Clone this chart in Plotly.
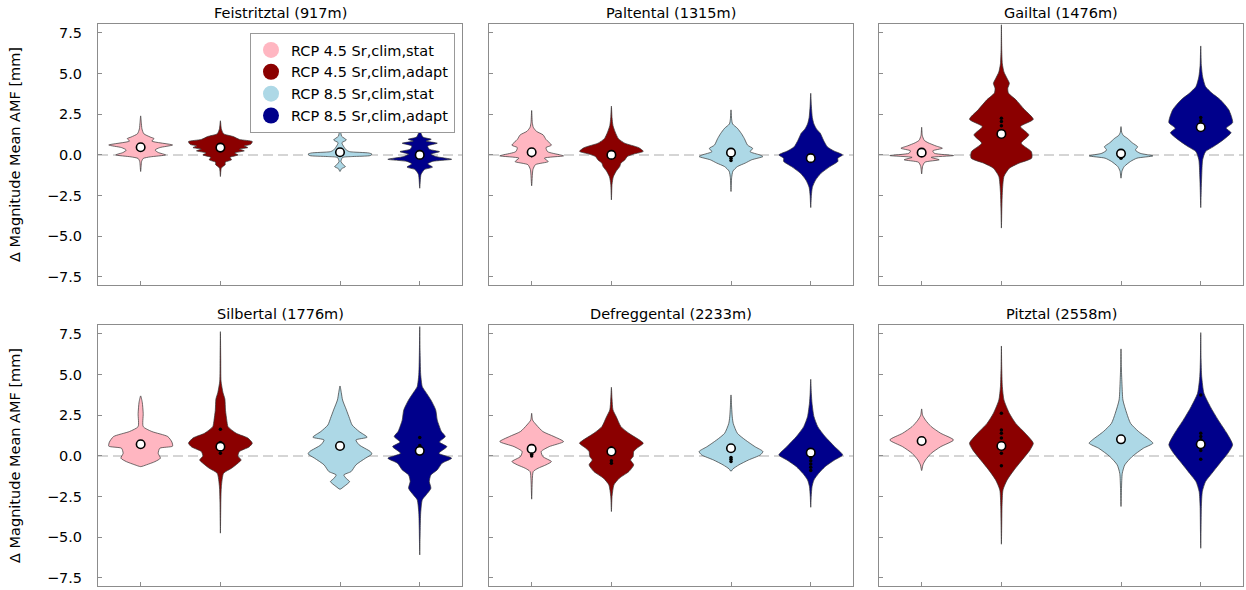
import plotly.graph_objects as go

# ---------------------------------------------------------------------------
# Data
# ---------------------------------------------------------------------------
panel_titles = [
    "Feistritztal (917m)", "Paltental (1315m)", "Gailtal (1476m)",
    "Silbertal (1776m)", "Defreggental (2233m)", "Pitztal (2558m)",
]
series_names = [
    "RCP 4.5 Sr,clim,stat", "RCP 4.5 Sr,clim,adapt",
    "RCP 8.5 Sr,clim,stat", "RCP 8.5 Sr,clim,adapt",
]
series_positions = [1.0, 2.0, 3.5, 4.5]
y_ticks = [-7.5, -5.0, -2.5, 0.0, 2.5, 5.0, 7.5]

# Density profiles: value levels (mm) and relative density (1 = widest part),
# one profile per scenario in the order of series_names.
feistritztal_y = [
    [2.4, 2.0, 1.6, 1.3, 1.1, 1.0, 0.85, 0.61, 0.45, 0.3, 0.15, 0.0, -0.12, -0.22, -0.4, -0.7, -1.02],
    [2.1, 1.6, 1.3, 1.13, 0.95, 0.82, 0.65, 0.55, 0.45, 0.35, 0.25, 0.12, 0.0, -0.15, -0.3, -0.45, -0.6, -0.8, -1.33],
    [2.2, 1.5, 1.15, 0.92, 0.75, 0.5, 0.3, 0.2, 0.12, 0.05, -0.04, -0.1, -0.16, -0.4, -0.6, -0.72, -0.85, -1.02],
    [2.0, 1.4, 1.1, 0.96, 0.85, 0.72, 0.55, 0.35, 0.2, 0.05, -0.1, -0.27, -0.4, -0.55, -0.75, -0.9, -1.2, -2.05],
]
feistritztal_d = [
    [0, 0.02, 0.04, 0.1, 0.3, 0.42, 0.35, 1.0, 0.6, 0.45, 0.55, 0.78, 0.3, 0.08, 0.03, 0.015, 0],
    [0, 0.03, 0.1, 0.4, 0.6, 1.0, 0.95, 0.75, 0.86, 0.6, 0.75, 0.45, 0.55, 0.3, 0.35, 0.15, 0.15, 0.03, 0],
    [0, 0.02, 0.05, 0.2, 0.06, 0.12, 0.2, 0.3, 0.9, 1.0, 0.95, 0.4, 0.08, 0.03, 0.1, 0.17, 0.05, 0],
    [0, 0.03, 0.1, 0.36, 0.2, 0.55, 0.25, 0.3, 0.62, 0.35, 0.5, 1.0, 0.4, 0.25, 0.4, 0.15, 0.04, 0],
]
feistritztal_mean = [0.47, 0.45, 0.16, 0.0]
feistritztal_members = [[0.35], [0.38], [0.1], [-0.05]]

paltental_y = [
    [2.73, 2.0, 1.7, 1.45, 1.23, 0.95, 0.6, 0.45, 0.2, 0.0, -0.06, -0.2, -0.41, -0.6, -0.9, -1.9],
    [3.0, 2.3, 1.8, 1.4, 1.0, 0.72, 0.45, 0.22, 0.05, -0.1, -0.31, -0.5, -0.72, -1.0, -1.35, -1.8, -2.77],
    [2.77, 2.2, 1.9, 1.64, 1.3, 1.0, 0.6, 0.4, 0.2, 0.0, -0.1, -0.3, -0.5, -0.72, -1.0, -1.4, -2.25],
    [3.79, 3.0, 2.3, 1.9, 1.6, 1.33, 0.9, 0.5, 0.25, 0.0, -0.2, -0.4, -0.72, -1.13, -1.55, -2.0, -2.5, -3.24],
]
paltental_d = [
    [0, 0.02, 0.05, 0.15, 0.36, 0.45, 0.62, 0.45, 0.5, 0.9, 1.0, 0.4, 0.52, 0.12, 0.04, 0],
    [0, 0.02, 0.05, 0.12, 0.22, 0.42, 0.85, 1.0, 0.7, 0.5, 0.42, 0.3, 0.26, 0.15, 0.06, 0.02, 0],
    [0, 0.02, 0.05, 0.2, 0.33, 0.42, 0.52, 0.68, 0.6, 0.9, 1.0, 0.65, 0.45, 0.2, 0.06, 0.02, 0],
    [0, 0.02, 0.05, 0.1, 0.18, 0.3, 0.4, 0.52, 0.72, 1.0, 0.85, 0.85, 0.6, 0.32, 0.15, 0.05, 0.02, 0],
]
paltental_mean = [0.16, 0.0, 0.14, -0.2]
paltental_members = [[0.02, -0.05], [-0.1], [-0.2, -0.35], [-0.3, -0.38]]

gailtal_y = [
    [1.7, 1.2, 0.9, 0.75, 0.55, 0.41, 0.25, 0.1, -0.04, -0.15, -0.3, -0.45, -0.7, -1.17],
    [8.0, 6.5, 5.6, 5.1, 4.7, 4.4, 4.1, 3.8, 3.4, 2.77, 2.19, 1.74, 1.23, 0.72, 0.2, -0.2, -0.51, -0.82, -1.33, -2.3, -3.2, -4.5],
    [1.74, 1.4, 1.2, 1.02, 0.75, 0.5, 0.3, 0.1, -0.06, -0.2, -0.4, -0.72, -1.0, -1.43],
    [6.7, 5.5, 4.8, 4.2, 3.8, 3.38, 2.77, 1.99, 1.64, 1.37, 0.92, 0.51, 0.2, -0.3, -1.3, -2.2, -3.24],
]
gailtal_d = [
    [0, 0.02, 0.08, 0.2, 0.45, 0.65, 0.35, 0.4, 1.0, 0.3, 0.55, 0.1, 0.03, 0],
    [0, 0.01, 0.03, 0.08, 0.18, 0.25, 0.2, 0.22, 0.45, 0.73, 1.0, 0.6, 0.86, 0.62, 0.94, 0.95, 0.55, 0.25, 0.08, 0.03, 0.015, 0],
    [0, 0.02, 0.07, 0.2, 0.35, 0.52, 0.45, 0.6, 1.0, 0.5, 0.3, 0.1, 0.03, 0],
    [0, 0.02, 0.06, 0.15, 0.35, 0.62, 0.88, 1.0, 0.8, 0.95, 0.7, 0.4, 0.15, 0.06, 0.03, 0.015, 0],
]
gailtal_mean = [0.14, 1.29, 0.08, 1.7]
gailtal_members = [[0.0], [2.25, 2.05, 1.8], [-0.2], [1.9, 2.1, 2.3]]

silbertal_y = [
    [3.69, 3.3, 2.6, 1.8, 1.5, 1.19, 0.85, 0.6, 0.47, 0.16, -0.14, -0.35, -0.55, -0.66],
    [7.64, 6.0, 4.6, 3.9, 3.5, 2.8, 2.2, 1.8, 1.39, 1.1, 0.78, 0.55, 0.27, 0.0, -0.25, -0.45, -0.76, -1.07, -1.9, -2.7, -4.75],
    [4.3, 3.9, 3.44, 2.83, 2.3, 1.9, 1.5, 1.15, 0.98, 0.68, 0.27, 0.12, -0.14, -0.55, -0.96, -1.17, -1.4, -1.58, -1.89, -2.05],
    [7.95, 6.5, 5.0, 4.26, 3.95, 3.44, 2.83, 2.2, 1.5, 1.19, 0.85, 0.57, 0.16, -0.14, -0.45, -0.86, -1.17, -1.58, -1.99, -2.4, -2.7, -3.5, -4.5, -6.09],
]
silbertal_d = [
    [0, 0.05, 0.08, 0.08, 0.35, 0.85, 0.98, 1.0, 0.6, 0.55, 0.62, 0.45, 0.18, 0],
    [0, 0.01, 0.02, 0.08, 0.14, 0.16, 0.2, 0.24, 0.5, 0.86, 1.0, 0.9, 0.6, 0.55, 0.65, 0.55, 0.35, 0.1, 0.03, 0.015, 0],
    [0, 0.04, 0.08, 0.2, 0.3, 0.38, 0.6, 0.85, 0.5, 0.6, 0.95, 1.0, 0.8, 0.5, 0.35, 0.12, 0.2, 0.3, 0.12, 0],
    [0, 0.01, 0.03, 0.08, 0.18, 0.35, 0.5, 0.55, 0.68, 0.8, 0.62, 0.85, 0.6, 1.0, 0.7, 0.55, 0.35, 0.3, 0.35, 0.2, 0.08, 0.03, 0.015, 0],
]
silbertal_mean = [0.72, 0.57, 0.61, 0.31]
silbertal_members = [[], [1.64, 0.82, 0.16], [0.45], [1.13, 0.64]]

defreggental_y = [
    [2.62, 2.2, 1.9, 1.5, 1.19, 0.88, 0.57, 0.27, -0.04, -0.35, -0.55, -0.76, -0.96, -1.5, -2.66],
    [4.22, 3.5, 2.83, 2.42, 1.8, 1.39, 1.02, 0.78, 0.47, 0.27, -0.04, -0.25, -0.55, -0.96, -1.37, -1.78, -2.5, -3.42],
    [3.75, 3.0, 2.4, 2.0, 1.39, 0.98, 0.57, 0.27, 0.06, -0.25, -0.55, -0.8, -0.95],
    [4.71, 3.8, 3.24, 2.42, 1.8, 1.19, 0.57, 0.06, -0.25, -0.66, -1.07, -1.48, -1.89, -2.5, -3.16],
]
defreggental_d = [
    [0, 0.03, 0.15, 0.35, 0.7, 1.0, 0.55, 0.3, 0.35, 0.62, 0.45, 0.2, 0.05, 0.02, 0],
    [0, 0.02, 0.05, 0.15, 0.3, 0.55, 0.85, 1.0, 0.8, 0.7, 0.68, 0.6, 0.7, 0.55, 0.25, 0.08, 0.02, 0],
    [0, 0.02, 0.04, 0.07, 0.2, 0.45, 0.75, 1.0, 0.92, 0.55, 0.25, 0.06, 0],
    [0, 0.02, 0.04, 0.1, 0.22, 0.45, 0.75, 1.0, 0.75, 0.45, 0.25, 0.1, 0.04, 0.015, 0],
]
defreggental_mean = [0.43, 0.27, 0.47, 0.2]
defreggental_members = [[0.1, 0.0], [0.5, -0.3, -0.45], [-0.1, -0.2, -0.35], [-0.1, -0.3, -0.5, -0.7, -0.9]]

pitztal_y = [
    [2.89, 2.5, 2.2, 1.8, 1.39, 0.98, 0.57, 0.16, -0.25, -0.55, -0.9],
    [6.76, 5.5, 4.26, 3.44, 2.62, 2.0, 1.39, 0.78, 0.37, -0.25, -0.86, -1.48, -2.09, -3.1, -4.3, -5.43],
    [6.58, 5.5, 4.47, 3.44, 2.62, 2.0, 1.5, 0.98, 0.78, 0.47, -0.04, -0.55, -1.07, -2.0, -3.11],
    [7.58, 6.0, 4.88, 3.85, 3.03, 2.2, 1.39, 0.68, 0.16, -0.45, -1.07, -1.58, -2.19, -3.11, -4.5, -5.68],
]
pitztal_d = [
    [0, 0.03, 0.12, 0.3, 0.6, 1.0, 0.6, 0.3, 0.12, 0.04, 0],
    [0, 0.01, 0.03, 0.08, 0.25, 0.45, 0.75, 1.0, 0.9, 0.65, 0.4, 0.18, 0.05, 0.02, 0.01, 0],
    [0, 0.01, 0.03, 0.06, 0.18, 0.3, 0.55, 0.9, 1.0, 0.7, 0.35, 0.12, 0.04, 0.015, 0],
    [0, 0.01, 0.03, 0.1, 0.3, 0.55, 0.82, 1.0, 0.85, 0.6, 0.35, 0.15, 0.05, 0.02, 0.01, 0],
]
pitztal_mean = [0.92, 0.61, 1.02, 0.72]
pitztal_members = [[1.05], [2.62, 1.6, 1.4, 1.1, 0.16, -0.6], [1.15], [3.75, 1.4, 1.2, 1.0, 0.33, -0.2]]

panel_levels = [feistritztal_y, paltental_y, gailtal_y, silbertal_y, defreggental_y, pitztal_y]
panel_density = [feistritztal_d, paltental_d, gailtal_d, silbertal_d, defreggental_d, pitztal_d]
panel_means = [feistritztal_mean, paltental_mean, gailtal_mean, silbertal_mean, defreggental_mean, pitztal_mean]
panel_members = [feistritztal_members, paltental_members, gailtal_members,
                 silbertal_members, defreggental_members, pitztal_members]

# ---------------------------------------------------------------------------
# Styling
# ---------------------------------------------------------------------------
FONT = "DejaVu Sans"
FS = 14.5
colors = ["#FFB6C1", "#8B0000", "#ADD8E6", "#00008B"]
half_width = 0.4          # widest part of each violin, in x units
frame_color = "#8c8c8c"
W, H = 1246, 590

col_px = [(98, 462), (489, 853), (879, 1243)]
row_px = [(24, 285), (325, 586)]

fig = go.Figure()
layout = dict(
    width=W, height=H, margin=dict(l=0, r=0, t=0, b=0),
    paper_bgcolor="white", plot_bgcolor="white",
    font=dict(family=FONT, size=FS, color="black"),
    showlegend=True, annotations=[], shapes=[],
)

tick_text = [f"{v:.1f}".replace("-", "\u2212") for v in y_ticks]

for i, title in enumerate(panel_titles):
    r, c = divmod(i, 3)
    n = "" if i == 0 else str(i + 1)
    xa, ya = "x" + n, "y" + n
    x0, x1 = col_px[c]
    y0, y1 = row_px[r]
    layout["xaxis" + n] = dict(
        domain=[x0 / W, x1 / W], anchor=ya, range=[0.465, 5.03],
        tickvals=series_positions, showticklabels=False,
        ticks="inside", ticklen=4, tickcolor=frame_color,
        showline=True, mirror=True, linecolor=frame_color, linewidth=1,
        showgrid=False, zeroline=False, fixedrange=True,
    )
    layout["yaxis" + n] = dict(
        domain=[1 - y1 / H, 1 - y0 / H], anchor=xa, range=[-8.0, 8.05],
        tickvals=y_ticks, ticktext=tick_text, showticklabels=(c == 0),
        ticks="inside", ticklen=4, tickcolor=frame_color,
        ticklabelstandoff=12,
        tickfont=dict(family=FONT, size=FS, color="black"),
        showline=True, mirror=True, linecolor=frame_color, linewidth=1,
        showgrid=False, zeroline=False, fixedrange=True,
    )
    if c == 0:
        layout["yaxis" + n]["title"] = dict(
            text="\u0394 Magnitude Mean AMF [mm]",
            font=dict(family=FONT, size=FS, color="black"), standoff=22,
        )

    # panel title
    layout["annotations"].append(dict(
        text=title, x=(x0 + x1) / 2 / W, y=1 - y0 / H, xref="paper", yref="paper",
        xanchor="center", yanchor="bottom", yshift=1, showarrow=False,
        font=dict(family=FONT, size=FS, color="black"),
    ))
    # dashed zero reference line
    layout["shapes"].append(dict(
        type="line", xref=xa + " domain", yref=ya, x0=0, x1=1, y0=0, y1=0,
        line=dict(color="#c8c8c8", width=1.5, dash="10px,5px"), layer="below",
    ))

    for k in range(4):
        lv = panel_levels[i][k]
        dn = panel_density[i][k]
        pos = series_positions[k]
        xs = [pos + half_width * d for d in dn] + [pos - half_width * d for d in reversed(dn)][1:]
        ys = list(lv) + list(reversed(lv))[1:]
        fig.add_trace(go.Scatter(
            x=xs, y=ys, xaxis=xa, yaxis=ya, mode="lines", fill="toself",
            fillcolor=colors[k], line=dict(color="#333333", width=0.7, shape="spline", smoothing=0.6),
            hoverinfo="skip", showlegend=False,
        ))
        mem = panel_members[i][k]
        if mem:
            fig.add_trace(go.Scatter(
                x=[pos] * len(mem), y=mem, xaxis=xa, yaxis=ya, mode="markers",
                marker=dict(color="black", size=3.5, symbol="circle"),
                hoverinfo="skip", showlegend=False,
            ))
    fig.add_trace(go.Scatter(
        x=series_positions, y=panel_means[i], xaxis=xa, yaxis=ya, mode="markers",
        marker=dict(color="white", size=8.5, line=dict(color="black", width=1.6)),
        showlegend=False,
    ))

# legend entries
for k, name in enumerate(series_names):
    fig.add_trace(go.Scatter(
        x=[None], y=[None], mode="markers", name=name,
        marker=dict(color=colors[k], size=16), showlegend=True,
    ))

layout["legend"] = dict(
    x=250 / W, y=1 - 33 / H, xanchor="left", yanchor="top",
    bgcolor="white", bordercolor="#999999", borderwidth=1,
    font=dict(family=FONT, size=FS, color="black"),
    itemsizing="trace", tracegroupgap=0,
)

fig.update_layout(**layout)
fig.write_html("out.html")
